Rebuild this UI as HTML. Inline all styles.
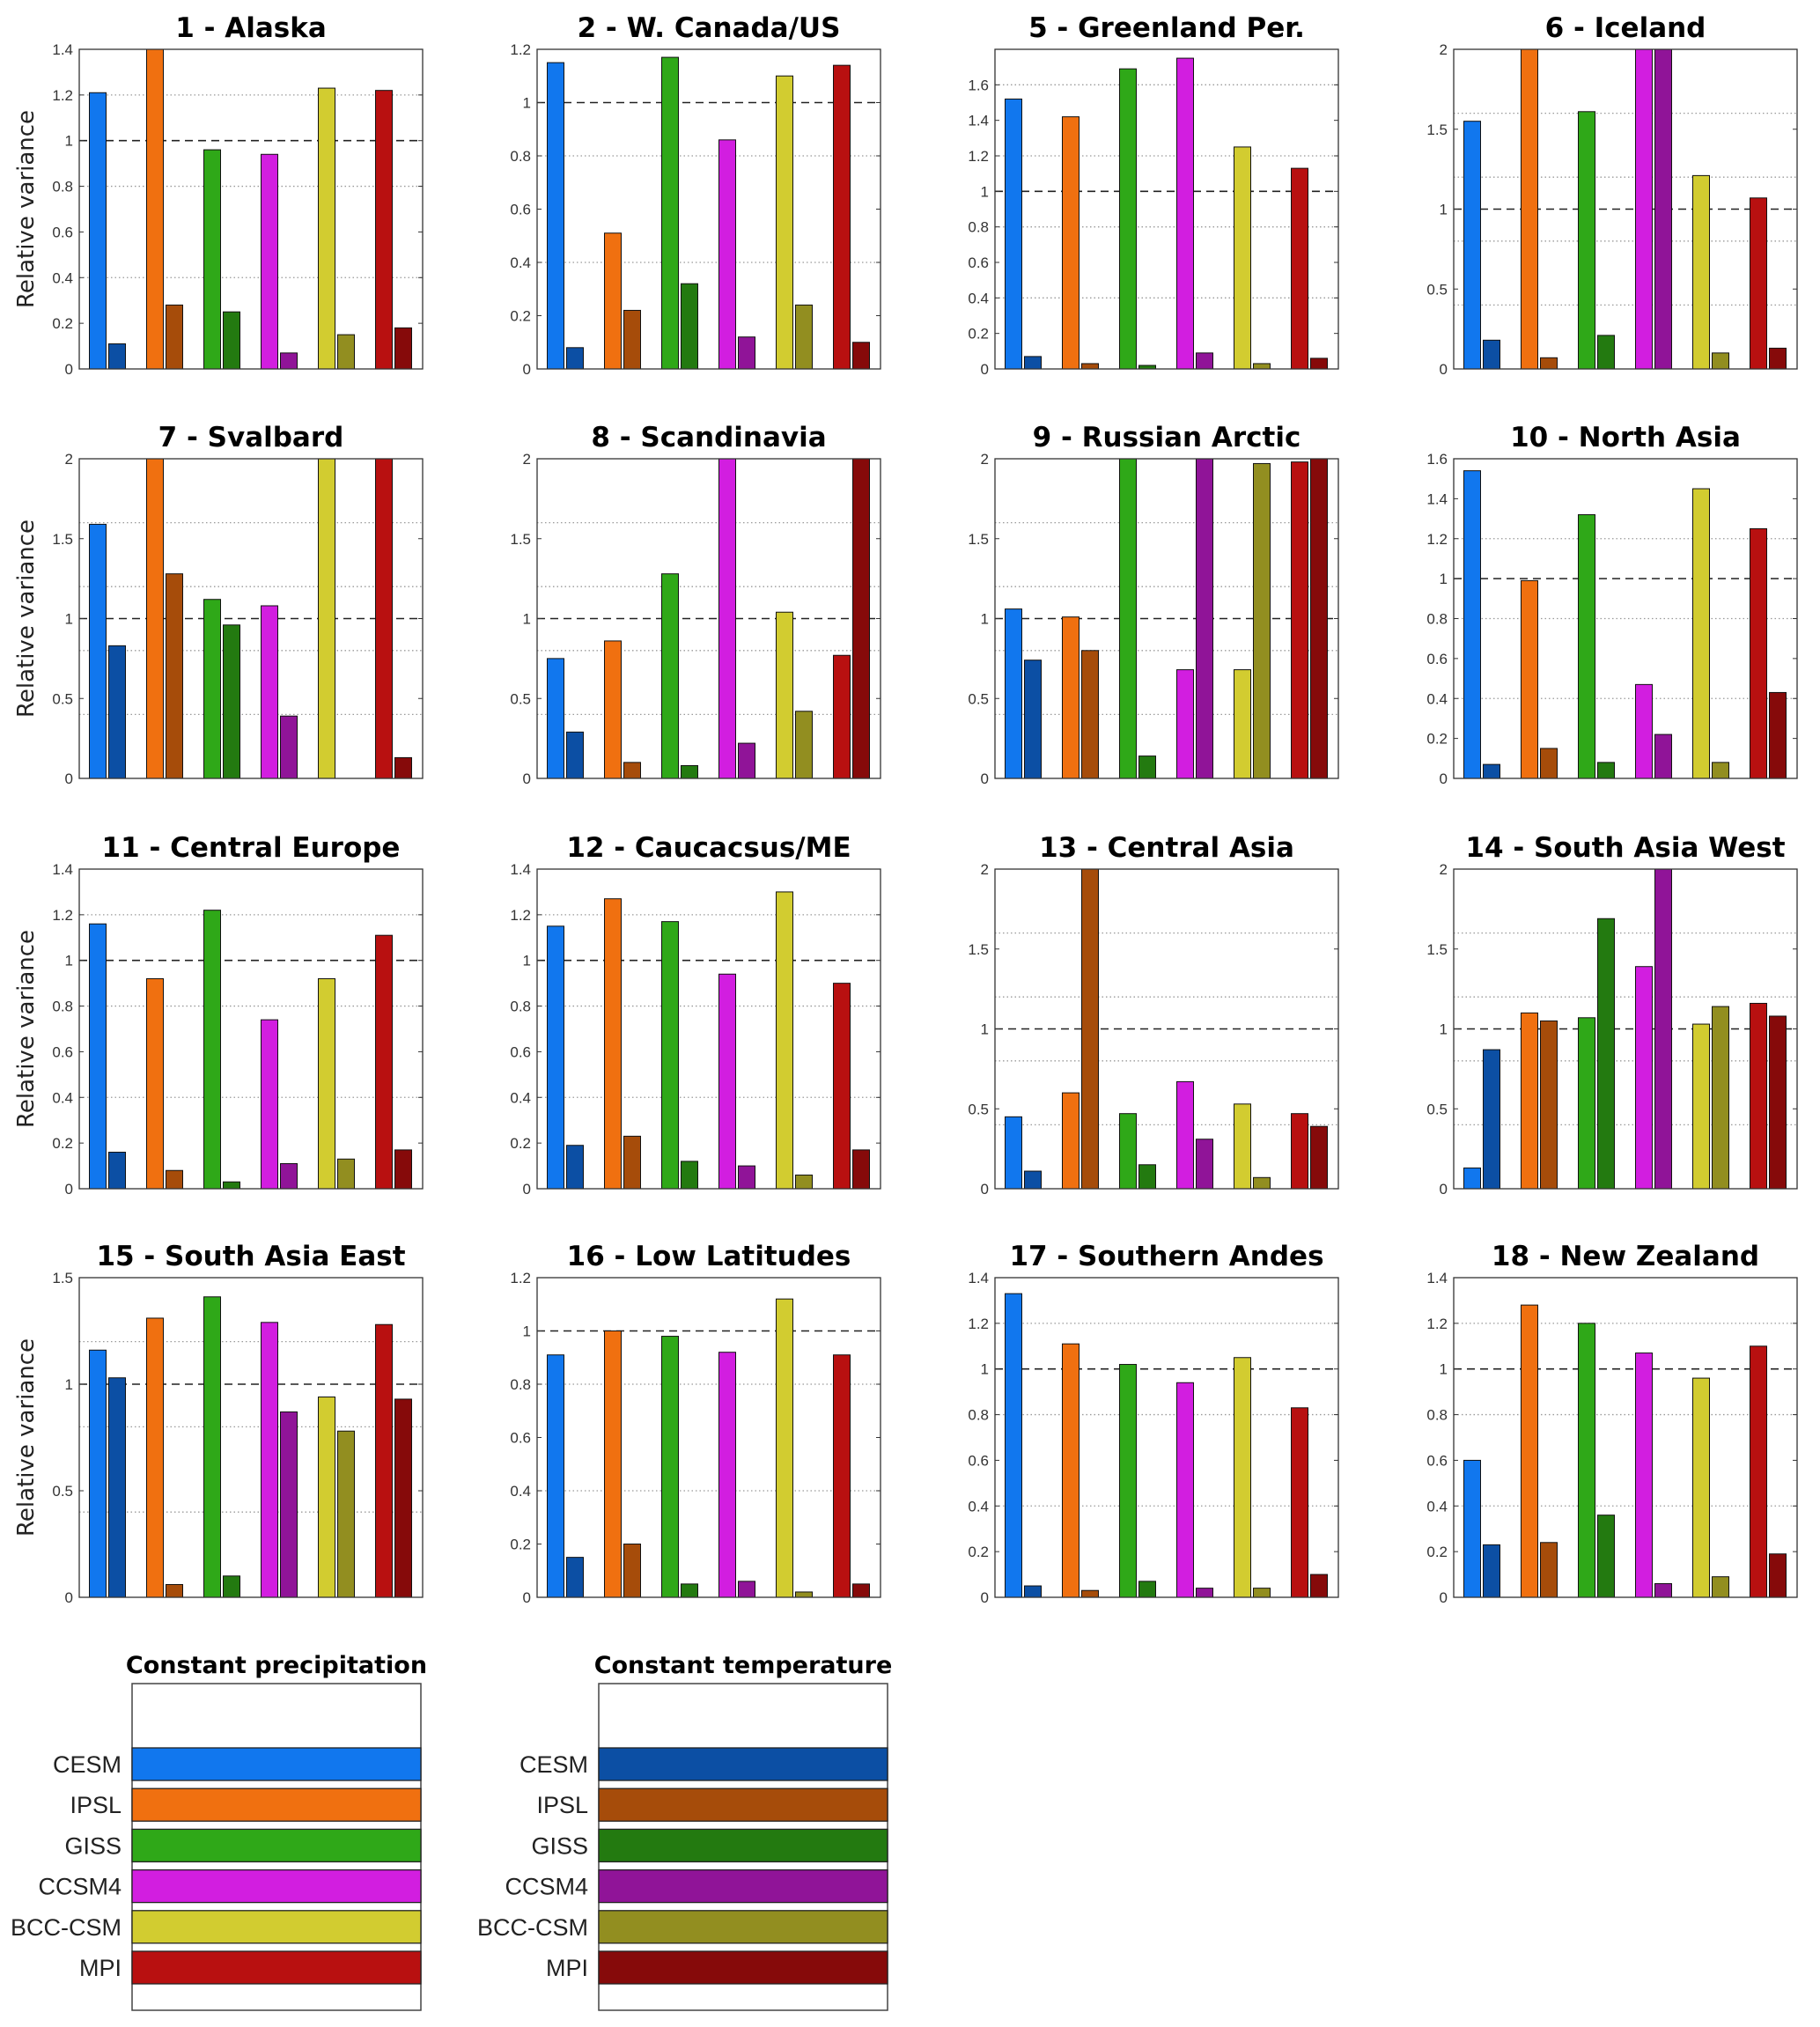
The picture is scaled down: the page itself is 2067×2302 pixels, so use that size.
<!DOCTYPE html>
<html><head><meta charset="utf-8"><style>
html,body{margin:0;padding:0;background:#fff;width:2067px;height:2302px;overflow:hidden}
svg text{font-family:"Liberation Sans","DejaVu Sans",sans-serif}
svg text.bold{font-family:"DejaVu Sans","Liberation Sans",sans-serif}
</style></head><body>
<svg id="chart" width="2067" height="2302" xmlns="http://www.w3.org/2000/svg"></svg>
<script>
const models = ["CESM","IPSL","GISS","CCSM4","BCC-CSM","MPI"];
const precipColors = ["#1177ee","#f07010","#2fa818","#d21ee0","#d2cc30","#b81010"];
const tempColors = ["#0c4fa4","#a64c0a","#237a10","#901498","#928e20","#860a0a"];
const titles = ["1 - Alaska","2 - W. Canada/US","5 - Greenland Per.","6 - Iceland","7 - Svalbard","8 - Scandinavia","9 - Russian Arctic","10 - North Asia","11 - Central Europe","12 - Caucacsus/ME","13 - Central Asia","14 - South Asia West","15 - South Asia East","16 - Low Latitudes","17 - Southern Andes","18 - New Zealand"];
const yMax = [1.4,1.2,1.8,2,2,2,2,1.6,1.4,1.4,2,2,1.5,1.2,1.4,1.4];
const tickMax = [1.4,1.2,1.6,2,2,2,2,1.6,1.4,1.4,2,2,1.5,1.2,1.4,1.4];
const tickStep = [0.2,0.2,0.2,0.5,0.5,0.5,0.5,0.2,0.2,0.2,0.5,0.5,0.5,0.2,0.2,0.2];
const precipValues = [
 [1.21,1.40,0.96,0.94,1.23,1.22],
 [1.15,0.51,1.17,0.86,1.10,1.14],
 [1.52,1.42,1.69,1.75,1.25,1.13],
 [1.55,2.5,1.61,2.5,1.21,1.07],
 [1.59,2.5,1.12,1.08,2.5,2.5],
 [0.75,0.86,1.28,2.5,1.04,0.77],
 [1.06,1.01,2.5,0.68,0.68,1.98],
 [1.54,0.99,1.32,0.47,1.45,1.25],
 [1.16,0.92,1.22,0.74,0.92,1.11],
 [1.15,1.27,1.17,0.94,1.30,0.90],
 [0.45,0.60,0.47,0.67,0.53,0.47],
 [0.13,1.10,1.07,1.39,1.03,1.16],
 [1.16,1.31,1.41,1.29,0.94,1.28],
 [0.91,1.00,0.98,0.92,1.12,0.91],
 [1.33,1.11,1.02,0.94,1.05,0.83],
 [0.60,1.28,1.20,1.07,0.96,1.10]
];
const tempValues = [
 [0.11,0.28,0.25,0.07,0.15,0.18],
 [0.08,0.22,0.32,0.12,0.24,0.10],
 [0.07,0.03,0.02,0.09,0.03,0.06],
 [0.18,0.07,0.21,2.5,0.10,0.13],
 [0.83,1.28,0.96,0.39,0,0.13],
 [0.29,0.10,0.08,0.22,0.42,2.5],
 [0.74,0.80,0.14,2.5,1.97,2.5],
 [0.07,0.15,0.08,0.22,0.08,0.43],
 [0.16,0.08,0.03,0.11,0.13,0.17],
 [0.19,0.23,0.12,0.10,0.06,0.17],
 [0.11,2.5,0.15,0.31,0.07,0.39],
 [0.87,1.05,1.69,2.5,1.14,1.08],
 [1.03,0.06,0.10,0.87,0.78,0.93],
 [0.15,0.20,0.05,0.06,0.02,0.05],
 [0.05,0.03,0.07,0.04,0.04,0.10],
 [0.23,0.24,0.36,0.06,0.09,0.19]
];
const NS="http://www.w3.org/2000/svg";
const svg=document.getElementById('chart');
function mk(tag,attrs,parent){const e=document.createElementNS(NS,tag);for(const k in attrs)e.setAttribute(k,attrs[k]);(parent||svg).appendChild(e);return e;}
const colX=[90,610,1130,1651], rowY=[56,521,987,1451], W=390, H=363;
function fmt(v){return String(Math.round(v*10)/10);}
titles.forEach((t,p)=>{
  const c=p%4,r=Math.floor(p/4),x0=colX[c],y0=rowY[r];
  const g=mk('g',{});
  
  
  const ym=yMax[p];
  const ys=v=>y0+H-Math.min(v,ym)/ym*H;
  const xs=i=>x0+(i+0.5)*W/6;
  for(let v=0.4;v<ym-1e-6;v+=0.4){
    if(Math.abs(v-1)<1e-6)continue;
    const l=mk('line',{x1:x0,x2:x0+W,y1:ys(v),y2:ys(v),stroke:'#999','stroke-width':1.3,'stroke-dasharray':'1.5,3'},g);
    
    
  }
  const ref=mk('line',{x1:x0,x2:x0+W,y1:ys(1),y2:ys(1),stroke:'#222','stroke-width':1.6,'stroke-dasharray':'9,6'},g);
  
  
  for(let i=0;i<6;i++){
    const cx=xs(i);
    const b1=mk('rect',{x:cx-21,y:ys(precipValues[p][i]),width:19,height:y0+H-ys(precipValues[p][i]),fill:precipColors[i],stroke:'#111','stroke-width':1},g);
    
    
    const b2=mk('rect',{x:cx+1,y:ys(tempValues[p][i]),width:19,height:y0+H-ys(tempValues[p][i]),fill:tempColors[i],stroke:'#111','stroke-width':1},g);
    
    
  }
  const ax=mk('rect',{x:x0,y:y0,width:W,height:H,fill:'none',stroke:'#333','stroke-width':1.3},g);
  
  
  const step=tickStep[p];
  for(let v=0;v<=tickMax[p]+1e-6;v+=step){
    const tl=mk('text',{x:x0-7,y:ys(v)+6,'text-anchor':'end','font-size':17,fill:'#333'},g);
    tl.textContent=fmt(v);
    
    
    mk('line',{x1:x0,x2:x0+5,y1:ys(v),y2:ys(v),stroke:'#333'},g);
    mk('line',{x1:x0+W-5,x2:x0+W,y1:ys(v),y2:ys(v),stroke:'#333'},g);
  }
  const tt=mk('text',{x:x0+W/2,y:y0-14,'text-anchor':'middle','font-size':31,'font-weight':'bold',fill:'#000','class':'bold'},g);
  tt.textContent=t;
  
  
  if(c===0){
    const yl=mk('text',{x:0,y:0,transform:`translate(38,${y0+H/2}) rotate(-90)`,'text-anchor':'middle','font-size':26,fill:'#222','class':'bold'},g);
    yl.textContent='Relative variance';
    
    
  }
});
const legends=[{title:'Constant precipitation',x:150,w:328,cols:precipColors},{title:'Constant temperature',x:680,w:328,cols:tempColors}];
legends.forEach((L,k)=>{
  const g=mk('g',{});
  
  
  const lt=mk('text',{x:L.x+L.w/2,y:1900,'text-anchor':'middle','font-size':27,'font-weight':'bold',fill:'#000','class':'bold'},g);
  lt.textContent=L.title;
  
  
  mk('rect',{x:L.x,y:1912,width:L.w,height:371,fill:'#fff',stroke:'#444','stroke-width':1.5},g);
  for(let i=0;i<6;i++){
    const y=1985+i*46.2;
    const r=mk('rect',{x:L.x,y:y,width:L.w,height:37,fill:L.cols[i],stroke:'#222','stroke-width':1.3},g);
    
    
    const tx=mk('text',{x:L.x-12,y:y+28,'text-anchor':'end','font-size':27,fill:'#222'},g);
    tx.textContent=models[i];
    
    
  }
});
</script>
</body></html>
